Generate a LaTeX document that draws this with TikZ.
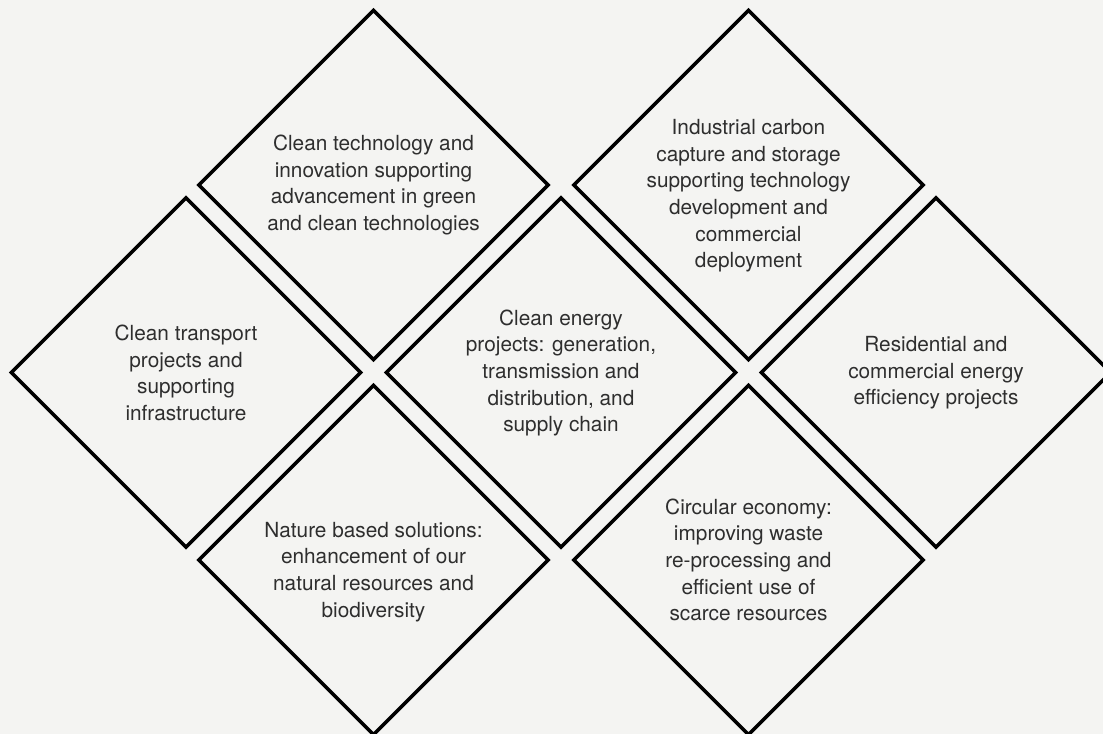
\documentclass[tikz,border=0pt]{standalone}
\usepackage{fontspec}
\setmainfont{TeX Gyre Heros}
\usetikzlibrary{shapes.geometric}
\definecolor{bgc}{HTML}{F4F4F2}
\definecolor{txc}{HTML}{2E2E2E}
\begin{document}
\begin{tikzpicture}[x=0.75pt,y=-0.75pt,
  dia/.style={diamond,draw=black,line width=2.6pt,minimum width=262pt,minimum height=262pt,aspect=1,inner sep=0pt,outer sep=0pt},
  lbl/.style={align=center,text=txc,font=\fontsize{15.6pt}{20pt}\selectfont,inner sep=0pt}]
\fill[bgc] (0,0) rectangle (1103,734);
\useasboundingbox (0,0) rectangle (1103,734);
\begin{scope}
\clip (0,0) rectangle (1103,734);
\node[dia] (d1) at (373.5,185) {};
\node[dia] (d2) at (748.5,185) {};
\node[dia] (dl) at (186,372.5) {};
\node[dia] (dc) at (561,372.5) {};
\node[dia] (dr) at (936,372.5) {};
\node[dia] (bl) at (373.5,560) {};
\node[dia] (br) at (748.5,560) {};
\end{scope}
\node[lbl] (t1) at (373.5,185) {Clean technology and\\innovation supporting\\advancement in green\\and clean technologies};
\node[lbl] (t2) at (748.5,196) {Industrial carbon\\capture and storage\\supporting technology\\development and\\commercial\\deployment};
\node[lbl] (tl) at (186,373) {Clean transport\\projects and\\supporting\\infrastructure};
\node[lbl] (tc) at (561,373) {Clean energy\\projects: generation,\\transmission and\\distribution, and\\supply chain};
\node[lbl] (tr) at (936,373) {Residential and\\commercial energy\\efficiency projects};
\node[lbl] (tbl) at (373.5,572) {Nature based solutions:\\enhancement of our\\natural resources and\\biodiversity};
\node[lbl] (tbr) at (748.5,560) {Circular economy:\\improving waste\\re-processing and\\efficient use of\\scarce resources};
\end{tikzpicture}
\end{document}
